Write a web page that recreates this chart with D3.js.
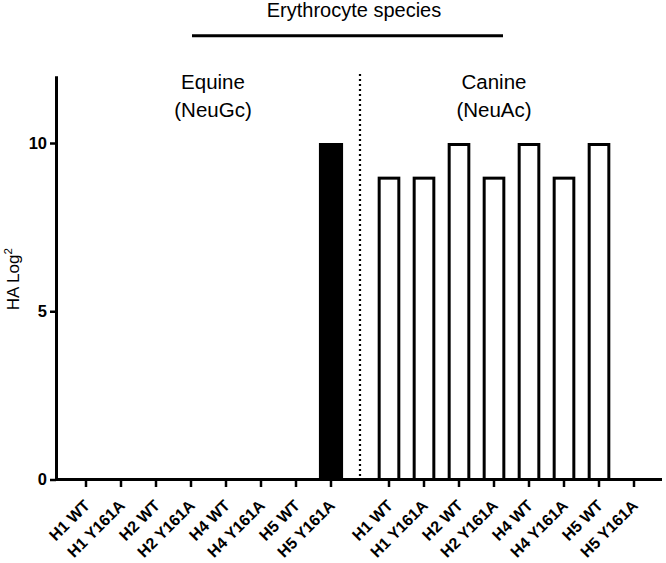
<!DOCTYPE html>
<html>
<head>
<meta charset="utf-8">
<script src="https://cdn.jsdelivr.net/npm/d3@7"></script>
<style>
  html, body { margin: 0; padding: 0; background: #fff; }
  svg { display: block; font-family: "Liberation Sans", Arial, sans-serif; }
</style>
</head>
<body>
<svg id="chart" width="666" height="563"></svg>
<script>
// ---- data ----
const groups = ["Equine", "Canine"];
const groupSubtitles = ["(NeuGc)", "(NeuAc)"];
const categories = ["H1 WT", "H1 Y161A", "H2 WT", "H2 Y161A", "H4 WT", "H4 Y161A", "H5 WT", "H5 Y161A"];
const equineValues = [0, 0, 0, 0, 0, 0, 0, 10];
const canineValues = [9, 9, 10, 9, 10, 9, 10, 0];
const yTicks = [0, 5, 10];
const title = "Erythrocyte species";
const yLabel = "HA Log";

const seriesValues = [equineValues, canineValues];
const seriesFill = ["#000", "#fff"];

const svg = d3.select("#chart");
const FONT = "Liberation Sans, Arial, sans-serif";

const axisLeftX = 56;

const y = d3.scaleLinear().domain([0, 12]).range([479.5, 75.7]);

const outer = d3.scaleBand().domain(groups).range([68.5, 651.5]).paddingInner(23 / 303).paddingOuter(0);
const inner = d3.scaleBand().domain(categories).range([0, outer.bandwidth()]).paddingInner(0.31).paddingOuter(0.155);

// bars
groups.forEach((g, gi) => {
  const gx = outer(g);
  const data = categories.map((c, i) => ({ c, v: seriesValues[gi][i] }));
  svg.append("g").selectAll("rect").data(data.filter(d => d.v > 0)).join("rect")
    .attr("x", d => gi === 0 ? gx + inner(d.c) : gx + inner(d.c) + 2.25)
    .attr("width", gi === 0 ? inner.bandwidth() : inner.bandwidth() - 4.5)
    .attr("y", d => gi === 0 ? y(d.v) : y(d.v) + 1.5)
    .attr("height", d => gi === 0 ? y(0) - y(d.v) : y(0) - y(d.v) - 1.5)
    .attr("fill", seriesFill[gi])
    .attr("stroke", gi === 0 ? "none" : "#000")
    .attr("stroke-width", 3);
});

// dotted divider
const divX = (outer(groups[0]) + outer.bandwidth() + outer(groups[1])) / 2;
svg.append("line")
  .attr("x1", divX).attr("x2", divX)
  .attr("y1", 74).attr("y2", y(0))
  .attr("stroke", "#000").attr("stroke-width", 2.2)
  .attr("stroke-dasharray", "2,3");

// x axis per group
groups.forEach((g, gi) => {
  const sub = d3.scaleBand().domain(categories).range([outer(g), outer(g) + outer.bandwidth()])
    .paddingInner(0.31).paddingOuter(0.155);
  const ax = svg.append("g").attr("transform", `translate(0,${y(0)})`)
    .call(d3.axisBottom(sub).tickSize(7.5).tickPadding(0));
  ax.select(".domain").remove();
  ax.selectAll(".tick line").attr("stroke", "#000").attr("stroke-width", 2.5);
  ax.selectAll(".tick text")
    .attr("font-family", FONT)
    .attr("font-size", 16).attr("font-weight", "bold").attr("fill", "#000")
    .attr("text-anchor", "end")
    .attr("y", 0).attr("dy", "0").attr("dx", "0")
    .attr("transform", "translate(5,27) rotate(-45)");
});
// x baseline
svg.append("line")
  .attr("x1", axisLeftX).attr("x2", 662)
  .attr("y1", y(0)).attr("y2", y(0))
  .attr("stroke", "#000").attr("stroke-width", 3);

// y axis
const yAx = svg.append("g").attr("transform", `translate(${axisLeftX},0)`)
  .call(d3.axisLeft(y).tickValues(yTicks).tickSize(6).tickPadding(3).tickSizeOuter(0));
yAx.select(".domain").attr("stroke", "#000").attr("stroke-width", 3);
yAx.selectAll(".tick line").attr("stroke", "#000").attr("stroke-width", 2.5);
yAx.selectAll(".tick text")
  .attr("font-family", FONT)
  .attr("font-size", 16.5).attr("font-weight", "bold").attr("fill", "#000");

// y label
const yl = svg.append("text")
  .attr("transform", `translate(19,${y(5.95)}) rotate(-90)`)
  .attr("text-anchor", "middle")
  .attr("font-size", 17).attr("fill", "#000");
yl.append("tspan").text(yLabel);
yl.append("tspan").attr("font-size", 11.5).attr("dy", "-0.6em").text("2");

// title and bracket line
svg.append("text").attr("x", 354).attr("y", 17)
  .attr("text-anchor", "middle").attr("font-size", 20).attr("fill", "#000").text(title);
svg.append("line").attr("x1", 192).attr("x2", 503).attr("y1", 35.7).attr("y2", 35.7)
  .attr("stroke", "#000").attr("stroke-width", 3);

// group labels
const groupCenters = [213, 494];
groups.forEach((g, gi) => {
  svg.append("text").attr("x", groupCenters[gi]).attr("y", 89)
    .attr("text-anchor", "middle").attr("font-size", 20.5).attr("fill", "#000").text(g);
  svg.append("text").attr("x", groupCenters[gi]).attr("y", 117)
    .attr("text-anchor", "middle").attr("font-size", 20.5).attr("fill", "#000").text(groupSubtitles[gi]);
});
</script>
</body>
</html>
